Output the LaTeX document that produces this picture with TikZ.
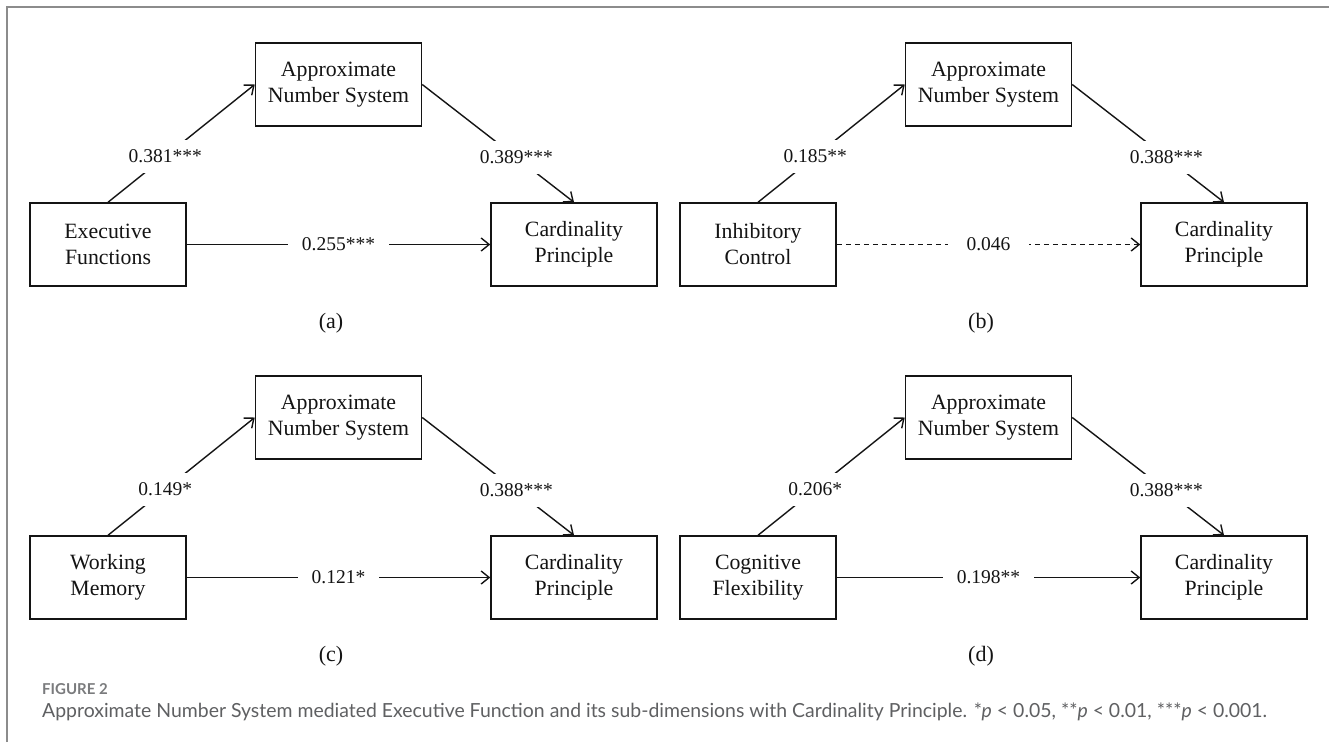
\documentclass[tikz,border=0pt]{standalone}
\usepackage{fontspec}
\setmainfont{Liberation Serif}
\newfontfamily\capfont{Lato}
\usetikzlibrary{arrows.meta}
\definecolor{capgray}{HTML}{5F6062}
\definecolor{figgray}{HTML}{7A7B7D}
\definecolor{framegray}{HTML}{8C8C8C}
\definecolor{ink}{HTML}{141414}
\tikzset{
  box/.style={draw=ink, line width=1.5pt, minimum height=83pt, inner sep=0pt, align=center,
    text=ink, font=\fontsize{21.8}{26}\selectfont},
  lbox/.style={box, minimum width=156pt},
  rbox/.style={box, minimum width=166pt},
  conn/.style={draw=ink, line width=1.4pt, -{Straight Barb[length=8pt,width=13pt,line width=1.4pt]}},
  dashconn/.style={conn, dash pattern=on 5pt off 4pt},
  coef/.style={fill=white, inner xsep=14pt, inner ysep=10pt, text=ink,
    font=\fontsize{19.5}{22}\selectfont},
  panellabel/.style={text=ink, font=\fontsize{22}{26}\selectfont}
}
\begin{document}
\begin{tikzpicture}[x=1pt,y=-1pt]
\useasboundingbox (0,0) rectangle (1329,742);
\fill[white] (0,0) rectangle (1329,742);
\draw[framegray, line width=1.6pt] (7,742) -- (7,7) -- (1329,7);

% panel (a)
\begin{scope}
\node[lbox] (al) at (108,244.5) {Executive\\Functions};
\node[rbox] (aa) at (338.5,84.5) {Approximate\\Number System};
\node[rbox] (ac) at (574,244.5) {Cardinality\\Principle};
\draw[conn] (al.north) -- node[coef, pos=0.39] {0.381***} (aa.west);
\draw[conn] (aa.east) -- node[coef, pos=0.62] {0.389***} (ac.north);
\draw[conn] (al.east) -- node[coef] {0.255***} (ac.west);
\node[panellabel] (la) at (331,323) {(a)};
\end{scope}

% panel (b)
\begin{scope}[shift={(650,0)}]
\node[lbox] (bl) at (108,244.5) {Inhibitory\\Control};
\node[rbox] (ba) at (338.5,84.5) {Approximate\\Number System};
\node[rbox] (bc) at (574,244.5) {Cardinality\\Principle};
\draw[conn] (bl.north) -- node[coef, pos=0.39] {0.185**} (ba.west);
\draw[conn] (ba.east) -- node[coef, pos=0.62] {0.388***} (bc.north);
\draw[dashconn] (bl.east) -- node[coef, inner xsep=19pt] {0.046} (bc.west);
\node[panellabel] (lb) at (331,323) {(b)};
\end{scope}

% panel (c)
\begin{scope}[shift={(0,333)}]
\node[lbox] (cl) at (108,244.5) {Working\\Memory};
\node[rbox] (ca) at (338.5,84.5) {Approximate\\Number System};
\node[rbox] (cc) at (574,244.5) {Cardinality\\Principle};
\draw[conn] (cl.north) -- node[coef, pos=0.39] {0.149*} (ca.west);
\draw[conn] (ca.east) -- node[coef, pos=0.62] {0.388***} (cc.north);
\draw[conn] (cl.east) -- node[coef] {0.121*} (cc.west);
\node[panellabel] (lc) at (331,323) {(c)};
\end{scope}

% panel (d)
\begin{scope}[shift={(650,333)}]
\node[lbox] (dl) at (108,244.5) {Cognitive\\Flexibility};
\node[rbox] (da) at (338.5,84.5) {Approximate\\Number System};
\node[rbox] (dc) at (574,244.5) {Cardinality\\Principle};
\draw[conn] (dl.north) -- node[coef, pos=0.39] {0.206*} (da.west);
\draw[conn] (da.east) -- node[coef, pos=0.62] {0.388***} (dc.north);
\draw[conn] (dl.east) -- node[coef] {0.198**} (dc.west);
\node[panellabel] (ld) at (331,323) {(d)};
\end{scope}

% caption
\node[anchor=base west, inner sep=0pt, text=figgray, font=\capfont\bfseries\fontsize{15}{18}\selectfont] (fig) at (42,694) {FIGURE 2};
\node[anchor=base west, inner sep=0pt, text=capgray, font=\capfont\fontsize{19}{22}\selectfont] (cap) at (42,717)
  {\resizebox{1225pt}{!}{Approximate Number System mediated Executive Function and its sub-dimensions with Cardinality Principle. *\textit{p} < 0.05, **\textit{p} < 0.01, ***\textit{p} < 0.001.}};
\end{tikzpicture}
\end{document}
